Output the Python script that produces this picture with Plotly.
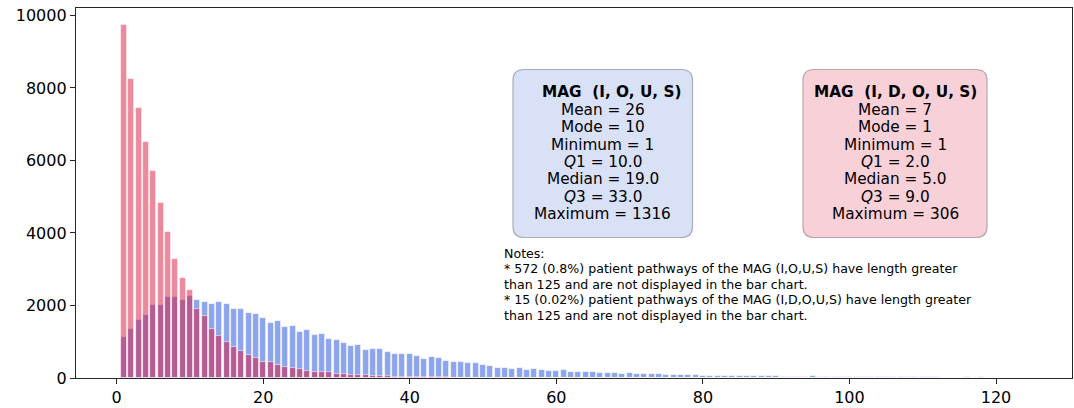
import plotly.graph_objects as go

# ---------------- data ----------------
lengths = list(range(1, 126))

mag_ious = [
    1140, 1350, 1600, 1750, 2010, 2015, 2245, 2245, 2160, 2260,
    2140, 2100, 2045, 2085, 2035, 1905, 1900, 1800, 1760, 1660,
    1530, 1585, 1400, 1435, 1270, 1325, 1190, 1215, 1065, 1040,
    955, 890, 920, 775, 790, 790, 710, 665, 655, 660,
    615, 515, 580, 560, 460, 445, 440, 405, 415, 360,
    330, 275, 275, 258, 276, 230, 240, 220, 202, 202,
    212, 175, 166, 166, 165, 130, 147, 138, 120, 129,
    120, 101, 110, 101, 92, 92, 74, 83, 83, 64,
    64, 64, 60, 62, 55, 58, 52, 50, 48, 45,
    40, 38, 30, 28, 50, 30, 28, 26, 25, 28,
    24, 22, 25, 20, 22, 18, 20, 22, 18, 20,
    16, 15, 5, 4, 6, 14, 12, 15, 13, 12,
    10, 11, 3, 2, 2,
]

mag_idous = [
    9730, 8250, 7460, 6520, 5710, 4830, 4030, 3280, 2760, 2420,
    1910, 1711, 1358, 1163, 980, 860, 740, 635, 548, 447,
    436, 364, 294, 276, 258, 184, 175, 166, 166, 110,
    101, 83, 74, 74, 55, 46, 46, 37, 37, 28,
    28, 20, 20, 18, 14, 12, 12, 10, 9, 8,
    7, 6, 6, 5, 5, 4, 4, 3, 3, 3,
    2, 2, 2, 2, 2, 1, 1, 1, 1, 1,
    1, 1, 1, 1, 1, 1, 0, 1, 0, 1,
    0, 0, 1, 0, 0, 0, 1, 0, 0, 0,
    0, 0, 0, 0, 0, 0, 0, 0, 0, 0,
    0, 0, 0, 0, 0, 0, 0, 0, 0, 0,
    0, 0, 0, 0, 0, 0, 0, 0, 0, 0,
    0, 0, 0, 0, 0,
]

x_ticks = [0, 20, 40, 60, 80, 100, 120]
y_ticks = [0, 2000, 4000, 6000, 8000, 10000]
y_tick_labels = ["0", "2000", "4000", "6000", "8000", "10000"]

stats_ious = ["<b>MAG\u00a0 (I, O, U, S)</b>", "Mean = 26", "Mode = 10", "Minimum = 1",
              "<i>Q</i>1 = 10.0", "Median = 19.0", "<i>Q</i>3 = 33.0", "Maximum = 1316"]
stats_idous = ["<b>MAG\u00a0 (I, D, O, U, S)</b>", "Mean = 7", "Mode = 1", "Minimum = 1",
               "<i>Q</i>1 = 2.0", "Median = 5.0", "<i>Q</i>3 = 9.0", "Maximum = 306"]
notes = [
    "Notes:",
    "* 572 (0.8%) patient pathways of the MAG (I,O,U,S) have length greater",
    "than 125 and are not displayed in the bar chart.",
    "* 15 (0.02%) patient pathways of the MAG (I,D,O,U,S) have length greater",
    "than 125 and are not displayed in the bar chart.",
]

# ---------------- layout geometry (pixels) ----------------
W, H = 1074, 408
L, R, T, B = 76, 2, 8, 30
PW, PH = W - L - R, H - T - B
FONT = "DejaVu Sans"


def px(x):
    return (x - L) / PW


def py(y):
    return (H - B - y) / PH


def rounded_box(x0, y0, x1, y1, r):
    pts = [
        f"M {px(x0 + r)},{py(y0)}",
        f"L {px(x1 - r)},{py(y0)}",
        f"Q {px(x1)},{py(y0)} {px(x1)},{py(y0 + r)}",
        f"L {px(x1)},{py(y1 - r)}",
        f"Q {px(x1)},{py(y1)} {px(x1 - r)},{py(y1)}",
        f"L {px(x0 + r)},{py(y1)}",
        f"Q {px(x0)},{py(y1)} {px(x0)},{py(y1 - r)}",
        f"L {px(x0)},{py(y0 + r)}",
        f"Q {px(x0)},{py(y0)} {px(x0 + r)},{py(y0)}",
        "Z",
    ]
    return " ".join(pts)


fig = go.Figure()
fig.add_trace(go.Bar(
    x=lengths, y=mag_ious, width=0.82,
    marker=dict(color="rgba(65,105,225,0.6)", line=dict(color="rgba(255,255,255,0.7)", width=0.8)),
    name="MAG (I,O,U,S)",
))
fig.add_trace(go.Bar(
    x=lengths, y=mag_idous, width=0.82,
    marker=dict(color="rgba(220,20,60,0.5)", line=dict(color="rgba(255,255,255,0.7)", width=0.8)),
    name="MAG (I,D,O,U,S)",
))

shapes = [
    dict(type="path", xref="paper", yref="paper",
         path=rounded_box(513, 69.5, 692.5, 237.5, 11),
         fillcolor="rgb(217,225,247)", line=dict(color="rgb(170,172,186)", width=1.2), layer="above"),
    dict(type="path", xref="paper", yref="paper",
         path=rounded_box(803, 69.5, 987, 237.5, 11),
         fillcolor="rgb(248,208,216)", line=dict(color="rgb(188,166,172)", width=1.2), layer="above"),
]

annotations = []
line_y0, line_dy = 92.3, 17.4
for i, t in enumerate(stats_ious):
    cx = 611 if i == 0 else 602.5
    annotations.append(dict(x=px(cx), y=py(line_y0 + i * line_dy), xref="paper", yref="paper",
                            text=t, showarrow=False, xanchor="center", yanchor="middle",
                            font=dict(family=FONT, size=15.3, color="black")))
for i, t in enumerate(stats_idous):
    cx = 895
    annotations.append(dict(x=px(cx), y=py(line_y0 + i * line_dy), xref="paper", yref="paper",
                            text=t, showarrow=False, xanchor="center", yanchor="middle",
                            font=dict(family=FONT, size=15.3, color="black")))
for i, t in enumerate(notes):
    annotations.append(dict(x=px(502), y=py(253.5 + i * 15.4), xref="paper", yref="paper",
                            text=t, showarrow=False, xanchor="left", yanchor="middle",
                            font=dict(family=FONT, size=12.6, color="black")))

axis_common = dict(
    showline=True, mirror=True, linecolor="#262626", linewidth=1.3,
    ticks="outside", ticklen=5, tickwidth=1.2, tickcolor="#262626",
    showgrid=False, zeroline=False, automargin=False,
    tickfont=dict(family=FONT, size=16, color="black"),
)

fig.update_layout(
    width=W, height=H,
    margin=dict(l=L, r=R, t=T, b=B, pad=0),
    paper_bgcolor="white", plot_bgcolor="white",
    barmode="overlay", bargap=0,
    showlegend=False,
    hovermode=False,
    xaxis=dict(range=[-5.55, 130.37], tickvals=x_ticks, **axis_common),
    yaxis=dict(range=[0, 10206], tickvals=y_ticks, ticktext=y_tick_labels, **axis_common),
    shapes=shapes,
    annotations=annotations,
)

fig.write_html("out.html", config={"displayModeBar": False},
               post_script="document.body.style.margin='0';")
